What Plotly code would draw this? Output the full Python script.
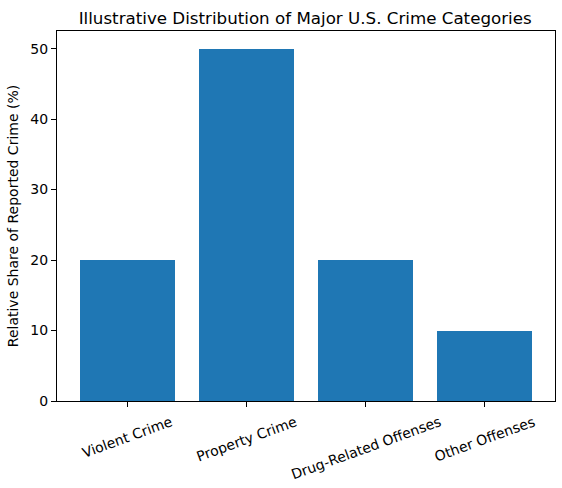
import plotly.graph_objects as go

# Data
categories = ['Violent Crime', 'Property Crime', 'Drug-Related Offenses', 'Other Offenses']
shares = [20, 50, 20, 10]
y_ticks = [0, 10, 20, 30, 40, 50]

fig = go.Figure()

fig.add_trace(go.Bar(
    x=list(range(len(categories))),
    y=shares,
    width=0.8,
    marker=dict(color='#1f77b4', line=dict(width=0)),
    showlegend=False
))

# rotated labels centred under ticks, like matplotlib's rotation=20
for i, cat in enumerate(categories):
    fig.add_annotation(
        x=i, xref='x', y=0, yref='paper',
        text=cat, textangle=-20, showarrow=False,
        xanchor='center', yanchor='top', yshift=-10,
        font=dict(family='DejaVu Sans', size=14, color='black')
    )

fig.update_layout(
    width=562,
    height=488,
    margin=dict(l=57, r=7, t=31, b=87, autoexpand=False),
    paper_bgcolor='white',
    plot_bgcolor='white',
    font=dict(family='DejaVu Sans', size=14, color='black'),
    title=dict(
        text='Illustrative Distribution of Major U.S. Crime Categories',
        x=0.543, xanchor='center', y=0.962, yanchor='middle',
        font=dict(size=16.7)
    ),
    bargap=0
)

fig.update_xaxes(
    range=[-0.59, 3.59],
    tickmode='array',
    tickvals=list(range(len(categories))),
    showticklabels=False,
    automargin=False,
    showline=True, linecolor='black', linewidth=1, mirror=True,
    ticks='outside', ticklen=5, tickcolor='black',
    showgrid=False, zeroline=False
)

fig.update_yaxes(
    range=[0, 52.5],
    tickmode='array',
    tickvals=y_ticks,
    automargin=False,
    tickfont=dict(size=14),
    title=dict(text='Relative Share of Reported Crime (%)', standoff=8,
               font=dict(size=14)),
    showline=True, linecolor='black', linewidth=1, mirror=True,
    ticks='outside', ticklen=5, tickcolor='black',
    showgrid=False, zeroline=False
)

# remove the browser's default page margin so the figure sits at 0,0
fig.write_html("out.html", config={'displayModeBar': False},
               post_script="document.body.style.margin='0';document.body.style.overflow='hidden';")
